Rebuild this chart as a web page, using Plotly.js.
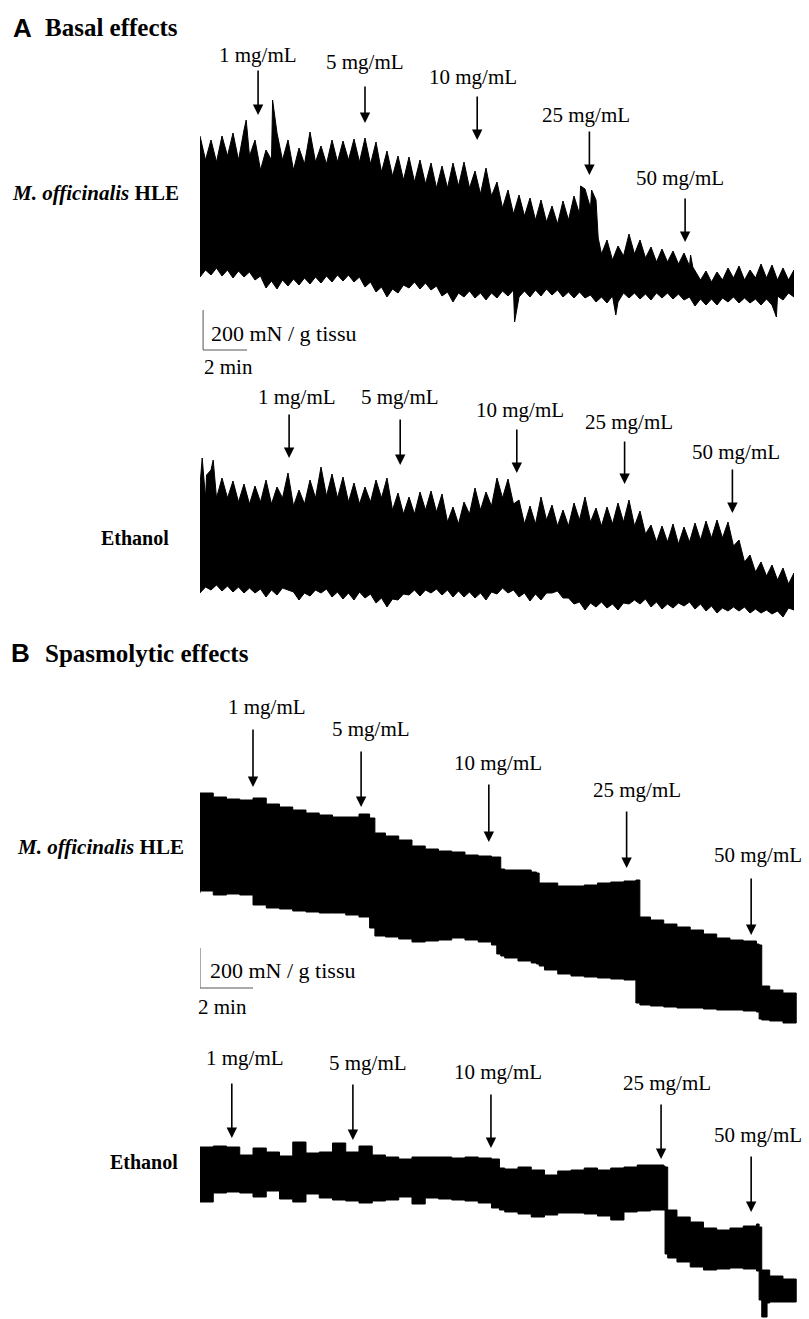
<!DOCTYPE html>
<html><head><meta charset="utf-8">
<script src="https://cdn.plot.ly/plotly-3.0.1.min.js"></script>
<style>html,body{margin:0;padding:0;background:#fff}</style>
</head><body><div id="chart" style="width:809px;height:1319px"></div>
<script>
// ================= DATA (time in min, force in mN / g tissue) =================
const doses = ["1 mg/mL","5 mg/mL","10 mg/mL","25 mg/mL","50 mg/mL"];

// --- A: Basal effects, M. officinalis HLE
// spike tops (upper envelope) and bottoms (lower envelope)
const A1_tUp=[0,0.5,1,1.5,2,2.1,2.5,3,3.3,3.5,4,4.5,5,5.5,6,6.5,7,7.5,8,8.5,9,9.5,10,10.5,11,11.5,12,12.5,13,13.5,14,14.5,15,15.5,16,16.5,17,17.3,17.5,17.8,18,18.1,18.5,19,19.5,20,20.5,21,21.5,22,22.3,22.4,23,23.5,24,24.5,25,25.5,26,26.5,27];
const A1_up=[820,800,820,835,850,900,800,750,1000,835,800,760,840,770,800,795,805,810,790,745,720,715,700,685,670,685,690,645,660,590,550,525,510,500,470,495,520,570,555,550,500,310,300,270,330,300,265,255,245,235,225,165,145,140,160,170,150,180,175,160,150];
const A1_tLo=[0,0.5,1,1.5,2,2.5,3,3.5,4,4.5,5,5.5,6,6.5,7,7.5,8,8.5,9,9.5,10,10.5,11,11.5,12,12.5,13,13.5,14,14.3,14.5,15,15.5,16,16.5,17,17.5,18,18.5,18.9,19,19.5,20,20.5,21,21.5,22,22.5,23,23.5,24,24.5,25,25.5,26,26.2,26.5,27];
const A1_lo=[115,125,120,110,115,100,60,55,70,75,80,85,90,95,90,65,40,15,35,60,55,50,20,-10,15,10,0,10,20,-110,15,15,20,25,15,10,10,-10,-15,-75,-10,10,5,0,10,5,0,-30,-25,-25,-10,-15,-15,-25,-25,-85,0,15];
// levels between the spikes (solid part of the trace), read at the quarter minutes
const A1_tMid=[0.25,0.75,1.25,1.75,2.25,2.75,3.25,3.75,4.25,4.75,5.25,5.75,6.25,6.75,7.25,7.75,8.25,8.75,9.25,9.75,10.25,10.75,11.25,11.75,12.25,12.75,13.25,13.75,14.25,14.75,15.25,15.75,16.25,16.75,17.25,17.75,18.25,18.75,19.25,19.75,20.25,20.75,21.25,21.75,22.25,22.75,23.25,23.75,24.25,24.75,25.25,25.75,26.25,26.75];
const A1_upMid=[700,690,720,700,720,650,700,700,650,680,690,680,690,700,690,680,640,620,600,590,580,560,560,570,560,530,520,460,430,420,400,390,380,400,430,460,230,200,220,230,210,190,190,180,170,100,90,100,110,100,110,110,100,100];
const A1_loMid=[150,160,150,145,140,120,95,100,105,110,115,120,125,125,115,90,65,55,75,90,85,70,40,35,45,35,35,45,50,45,50,55,50,40,40,25,15,20,35,35,30,35,35,30,15,5,5,10,15,10,5,5,20,35];
const A1_addTimes=[2.64,7.5,12.6,17.7,22.05];

// --- A: Basal effects, Ethanol
const A2_tUp=[0,0.1,0.3,0.5,0.6,1,1.5,2,2.5,3,3.5,4,4.5,5,5.5,6,6.5,7,7.5,8,8.5,9,9.5,10,10.5,11,11.5,12,12.5,13,13.5,14,14.5,15,15.5,16,16.5,17,17.5,18,18.5,19,19.5,20,20.5,21,21.5,22,22.5,23,23.5,24,24.5,25,25.5,26,26.5,27];
const A2_up=[625,760,675,700,750,660,645,630,620,650,615,685,600,650,715,680,665,635,615,650,660,585,565,590,595,580,515,540,610,590,660,655,550,520,565,525,500,535,565,510,515,535,550,495,425,420,430,415,435,445,450,440,350,275,240,225,210,185];
const A2_tLo=[0,0.5,1,1.5,2,2.5,3,3.5,4,4.5,5,5.5,6,6.5,7,7.5,8,8.5,9,9.5,10,10.5,11,11.5,12,12.5,13,13.5,14,14.5,15,15.5,16,16.5,17,17.5,18,18.5,19,19.5,20,20.5,21,21.5,22,22.5,23,23.5,24,24.5,25,25.5,26,26.5,27];
const A2_lo=[85,100,95,90,85,85,65,75,100,50,70,85,65,55,50,60,35,15,50,75,70,85,75,65,65,60,50,80,85,65,45,50,85,60,30,0,15,10,0,30,30,15,5,10,20,5,-5,-15,-5,-5,-15,-15,-20,-35,0];
const A2_tMid=[0.25,0.75,1.25,1.75,2.25,2.75,3.25,3.75,4.25,4.75,5.25,5.75,6.25,6.75,7.25,7.75,8.25,8.75,9.25,9.75,10.25,10.75,11.25,11.75,12.25,12.75,13.25,13.75,14.25,14.75,15.25,15.75,16.25,16.75,17.25,17.75,18.25,18.75,19.25,19.75,20.25,20.75,21.25,21.75,22.25,22.75,23.25,23.75,24.25,24.75,25.25,25.75,26.25,26.75];
const A2_upMid=[560,560,560,540,530,540,530,560,520,530,560,570,560,540,530,540,560,500,480,480,500,490,440,430,480,500,520,560,530,430,430,450,420,420,450,440,420,430,440,420,380,340,340,330,340,350,360,360,320,240,190,170,150,130];
const A2_loMid=[115,125,120,115,110,105,100,110,90,85,100,105,90,85,90,80,60,55,80,100,100,105,100,95,90,85,90,110,100,85,80,85,95,60,40,35,40,30,35,50,55,40,30,35,40,30,20,10,15,15,5,0,-5,10];
const A2_addTimes=[4.05,9.1,14.4,19.3,24.2];

// --- B: Spasmolytic effects, M. officinalis HLE
const B1_t=[0,0.5,1,1.5,2,2.5,3,3.5,4,4.5,5,5.5,6,6.4,6.6,7,7.5,8,8.5,9,9.5,10,10.5,11,11.2,11.35,11.5,12,12.5,12.7,12.8,13,13.5,14,14.5,15,15.5,16,16.45,16.6,17,17.5,18,18.5,19,19.5,20,20.5,21,21.1,21.2,21.5,22,22.5];
const B1_up=[1135,1115,1105,1100,1110,1080,1065,1050,1035,1025,1015,1015,1030,1010,935,920,900,870,855,845,840,825,820,815,815,755,750,750,740,735,685,685,670,670,675,685,690,695,700,515,500,480,465,450,430,410,400,395,380,375,170,150,135,115];
const B1_lo=[635,645,625,630,625,575,560,555,545,540,535,535,525,515,460,420,415,405,390,395,400,410,400,390,375,330,320,310,295,285,280,270,250,230,220,215,210,205,200,85,75,70,65,60,60,55,50,50,45,40,5,0,-5,-15];
const B1_addTimes=[2.0,6.08,10.9,16.1,20.8];

// --- B: Spasmolytic effects, Ethanol
const B2_tUp=[0,0.5,1,1.5,2,2.5,3,3.5,4,4.5,5,5.5,6,6.5,7,7.5,8,8.5,9,9.5,10,10.5,11,11.3,11.5,12,12.5,13,13.5,14,14.5,15,15.5,16,16.5,17,17.5,17.55,17.65,18,18.5,19,19.5,20,20.5,21,21.1,21.2,21.5,22,22.5];
const B2_up=[765,770,765,725,760,740,720,790,735,740,785,740,770,725,715,705,715,715,715,710,715,710,705,660,655,665,650,625,645,650,660,650,660,665,675,675,670,665,450,415,390,360,350,360,370,380,365,150,120,105,90];
const B2_tLo=[0,0.5,1,1.5,2,2.5,3,3.5,4,4.5,5,5.5,6,6.5,7,7.5,8,8.5,9,9.5,10,10.5,11,11.3,11.5,12,12.5,13,13.5,14,14.5,15,15.5,16,16.5,17,17.5,17.55,17.65,18,18.5,19,19.5,20,20.5,21,21.1,21.2,21.4,21.5,22,22.5];
const B2_lo=[565,490,535,540,535,515,545,505,490,530,510,500,495,485,495,500,515,480,510,505,500,495,485,460,450,440,430,415,425,435,435,430,420,400,440,445,450,450,230,210,190,165,150,155,160,155,145,0,-85,-15,-10,-10];
const B2_addTimes=[1.2,5.77,10.98,17.4,20.8];

// scale bars
const scaleForce = 200;   // mN / g tissu
const scaleTime = 2;      // min

// ================= LAYOUT CONFIG =================
const W=809, H=1319;
const SERIF="'Liberation Serif','Times New Roman',Times,serif";
const SANS="'Liberation Sans',Arial,sans-serif";
const px2x = p => p/W;
const px2y = p => 1 - p/H;

// merge two sampled series into one path ordered by time
function merge(tA, vA, tB, vB){
  const pts = tA.map((t,i)=>[t,vA[i]]);
  if (tB) tB.forEach((t,i)=>pts.push([t,vB[i]]));
  pts.sort((a,b)=>a[0]-b[0]);
  return {t:pts.map(p=>p[0]), v:pts.map(p=>p[1])};
}

const panels = [
  {id:'', U:merge(A1_tUp,A1_up,A1_tMid,A1_upMid), L:merge(A1_tLo,A1_lo,A1_tMid,A1_loMid), add:A1_addTimes, shape:'linear',
   xdom:[200,794], xr:[0,27], ydom:[90,380], yr:[-400,1050],
   tip:[925,885,800,625,290], len:[46,38,45,45,45], lab:[60,61,63,60,64], labx:[0,0,-4,-3,-5]},
  {id:'2', U:merge(A2_tUp,A2_up,A2_tMid,A2_upMid), L:merge(A2_tLo,A2_lo,A2_tMid,A2_loMid), add:A2_addTimes, shape:'linear',
   xdom:[200,794], xr:[0,27], ydom:[440,630], yr:[-100,850],
   tip:[760,725,685,630,485], len:[45,47,45,44,45], lab:[61,68,63,62,61], labx:[8,0,3,4,4]},
  {id:'3', U:merge(B1_t,B1_up), L:merge(B1_t,B1_lo), add:B1_addTimes, shape:'hv',
   xdom:[200,797], xr:[0,22.53], ydom:[760,1030], yr:[-50,1300],
   tip:[1165,1065,890,760,425], len:[59,57,59,58,58], lab:[80,78,79,78,80], labx:[14,10,9,10,7]},
  {id:'4', U:merge(B2_tUp,B2_up), L:merge(B2_tLo,B2_lo), add:B2_addTimes, shape:'hv',
   xdom:[200,797], xr:[0,22.53], ydom:[1090,1319], yr:[-95,1050],
   tip:[810,800,760,705,440], len:[56,57,55,56,57], lab:[80,77,76,76,77], labx:[13,15,7,6,7]}
];

const data=[], annotations=[], shapes=[];
const layout = {width:W, height:H, margin:{l:0,r:0,t:0,b:0}, showlegend:false,
  paper_bgcolor:'#fff', plot_bgcolor:'rgba(0,0,0,0)'};

panels.forEach(p=>{
  const xa='x'+p.id, ya='y'+p.id;
  layout['xaxis'+p.id] = {domain:[px2x(p.xdom[0]),px2x(p.xdom[1])], range:p.xr, visible:false, anchor:ya, fixedrange:true};
  layout['yaxis'+p.id] = {domain:[px2y(p.ydom[1]),px2y(p.ydom[0])], range:p.yr, visible:false, anchor:xa, fixedrange:true};
  const xs = p.U.t.concat(p.L.t.slice().reverse());
  const ys = p.U.v.concat(p.L.v.slice().reverse());
  data.push({type:'scatter', mode:'lines', x:xs, y:ys, xaxis:xa, yaxis:ya, fill:'toself',
    fillcolor:'#000', line:{color:'#000', width:1, shape:p.shape}, hoverinfo:'skip'});
  p.add.forEach((t,i)=>{
    annotations.push({xref:xa, yref:ya, x:t, y:p.tip[i], ax:0, ay:-p.len[i], text:'',
      showarrow:true, arrowhead:2, arrowsize:1.3, arrowwidth:1.6, arrowcolor:'#000'});
    annotations.push({xref:xa, yref:ya, x:t, y:p.tip[i], yshift:p.lab[i], xshift:p.labx[i],
      text:doses[i], showarrow:false, xanchor:'center', yanchor:'middle',
      font:{family:SERIF, size:21, color:'#000'}});
  });
});

// scale bars (A in first subplot, B in third subplot)
const bars = [
  {xa:'x', ya:'y', t0:0.14, f0:-250, txtF:-165, minF:-335, txtShift:6, minShift:-1},
  {xa:'x3', ya:'y3', t0:0, f0:160, txtF:250, minF:65, txtShift:8, minShift:-4}
];
bars.forEach(b=>{
  shapes.push({type:'line', xref:b.xa, yref:b.ya, x0:b.t0, x1:b.t0, y0:b.f0, y1:b.f0+scaleForce, line:{color:'#555', width:1}});
  shapes.push({type:'line', xref:b.xa, yref:b.ya, x0:b.t0, x1:b.t0+scaleTime, y0:b.f0, y1:b.f0, line:{color:'#555', width:1}});
  annotations.push({xref:b.xa, yref:b.ya, x:b.t0, y:b.txtF, xshift:b.txtShift, xanchor:'left', yanchor:'middle',
    text:scaleForce+' mN / g tissu', showarrow:false, font:{family:SERIF, size:22, color:'#000'}});
  annotations.push({xref:b.xa, yref:b.ya, x:b.t0, y:b.minF, xshift:b.minShift, xanchor:'left', yanchor:'middle',
    text:scaleTime+' min', showarrow:false, font:{family:SERIF, size:21, color:'#000'}});
});

// panel letters / titles / row labels
const textItems = [
  {x:11, y:28, t:'<b>A</b>', f:SANS, s:26, a:'left'},
  {x:43, y:28, t:'<b>Basal effects</b>', f:SERIF, s:25, a:'left'},
  {x:9, y:653, t:'<b>B</b>', f:SANS, s:26, a:'left'},
  {x:43, y:653, t:'<b>Spasmolytic effects</b>', f:SERIF, s:25, a:'left'},
  {x:181, y:193, t:'<b><i>M. officinalis</i> HLE</b>', f:SERIF, s:21, a:'right'},
  {x:171, y:538, t:'<b>Ethanol</b>', f:SERIF, s:20, a:'right'},
  {x:186, y:847, t:'<b><i>M. officinalis</i> HLE</b>', f:SERIF, s:21, a:'right'},
  {x:180, y:1162, t:'<b>Ethanol</b>', f:SERIF, s:20, a:'right'}
];
textItems.forEach(o=>annotations.push({xref:'paper', yref:'paper', x:px2x(o.x), y:px2y(o.y),
  xanchor:o.a, yanchor:'middle', text:o.t, showarrow:false, font:{family:o.f, size:o.s, color:'#000'}}));

layout.annotations = annotations;
layout.shapes = shapes;
Plotly.newPlot('chart', data, layout, {staticPlot:true, displayModeBar:false});
</script></body></html>
